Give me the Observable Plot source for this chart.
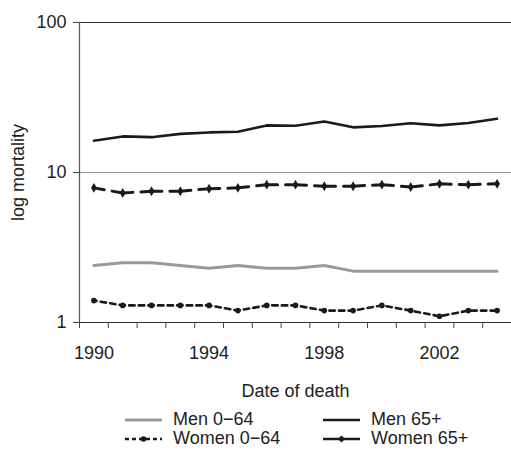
<!DOCTYPE html>
<html><head><meta charset="utf-8">
<script src="https://cdn.jsdelivr.net/npm/d3@7"></script>
<script src="https://cdn.jsdelivr.net/npm/@observablehq/plot@0.6"></script>
<style>
body{margin:0;background:#fff;font-family:"Liberation Sans",Arial,sans-serif;color:#222}
#legend{display:grid;grid-template-columns:198px 150px;padding-left:125px;margin-top:8px;font-size:18px;}
.item{display:flex;align-items:center;height:19px;white-space:nowrap}
.item svg{margin-right:11px;flex:none}
</style></head><body>
<div id="chart"></div><div id="legend"></div>
<script>
const years = [1990,1991,1992,1993,1994,1995,1996,1997,1998,1999,2000,2001,2002,2003,2004];
const men0_64   = [2.4,2.5,2.5,2.4,2.3,2.4,2.3,2.3,2.4,2.2,2.2,2.2,2.2,2.2,2.2];
const men65     = [16.3,17.4,17.2,18.1,18.5,18.7,20.6,20.5,21.9,20.0,20.4,21.3,20.6,21.4,22.8];
const women0_64 = [1.4,1.3,1.3,1.3,1.3,1.2,1.3,1.3,1.2,1.2,1.3,1.2,1.1,1.2,1.2];
const women65   = [7.9,7.3,7.5,7.5,7.8,7.9,8.3,8.3,8.1,8.1,8.3,8.0,8.4,8.3,8.4];
const seriesNames = ["Men 0\u221264","Men 65+","Women 0\u221264","Women 65+"];
const xLabelYears = [1990,1994,1998,2002];
const yTicks = [1,10,100];

const toRows = (vals) => years.map((year,i)=>({year, value: vals[i]}));
const dMen0 = toRows(men0_64), dMen65 = toRows(men65), dW0 = toRows(women0_64), dW65 = toRows(women65);
const boundaries = years.map(y=>y-0.5).concat([years[years.length-1]+0.5]);
const font = '"Liberation Sans", Arial, sans-serif';

const chart = Plot.plot({
  width: 511, height: 402,
  marginLeft: 79, marginRight: 0, marginTop: 22, marginBottom: 80,
  style: {fontFamily: font, fontSize: "18px", color: "#222", background: "#fff"},
  x: {domain: [years[0]-0.5, years[years.length-1]+0.5]},
  y: {type: "log", domain: [1, 100]},
  marks: [
    Plot.ruleY([10], {stroke: "#999", strokeWidth: 1.2}),
    Plot.ruleY([100], {stroke: "#333", strokeWidth: 1.2}),
    Plot.ruleY([1], {stroke: "#333", strokeWidth: 1.2}),
    Plot.ruleX([years[0]-0.5], {stroke: "#555", strokeWidth: 1.2}),
    Plot.axisY({ticks: yTicks, tickFormat: d => String(d), tickSize: 6, tickPadding: 7, stroke: "#444",
      label: "log mortality", labelAnchor: "center", labelArrow: "none", labelOffset: 68, fontSize: 18}),
    Plot.axisX({ticks: boundaries, tickFormat: () => "", tickSize: 6, stroke: "#444", label: null}),
    Plot.axisX({ticks: xLabelYears, tickFormat: d => String(d), tickSize: 0, tickPadding: 24,
      label: "Date of death", labelAnchor: "center", labelArrow: "none", labelOffset: 74, fontSize: 18}),
    Plot.line(dMen0, {x: "year", y: "value", stroke: "#9a9a9a", strokeWidth: 3}),
    Plot.line(dMen65, {x: "year", y: "value", stroke: "#1a1a1a", strokeWidth: 2.6}),
    Plot.line(dW0, {x: "year", y: "value", stroke: "#1a1a1a", strokeWidth: 2.6, strokeDasharray: "5.5,4.1", strokeDashoffset: 2.75}),
    Plot.dot(dW0, {x: "year", y: "value", fill: "#1a1a1a", r: 2.8, symbol: "circle"}),
    Plot.line(dW65, {x: "year", y: "value", stroke: "#1a1a1a", strokeWidth: 3, strokeDasharray: "21,8", strokeDashoffset: 10.5}),
    Plot.dot(dW65, {x: "year", y: "value", fill: "#1a1a1a", r: 3, symbol: "diamond"})
  ]
});
document.getElementById("chart").appendChild(chart);

// legend
const swatches = [
  `<svg width="37" height="10"><line x1="0" y1="5" x2="37" y2="5" stroke="#9a9a9a" stroke-width="3"/></svg>`,
  `<svg width="37" height="10"><line x1="0" y1="5" x2="37" y2="5" stroke="#1a1a1a" stroke-width="2.6"/></svg>`,
  `<svg width="37" height="10"><line x1="0" y1="5" x2="37" y2="5" stroke="#1a1a1a" stroke-width="2.4" stroke-dasharray="4,3"/><circle cx="18.5" cy="5" r="2.8" fill="#1a1a1a"/></svg>`,
  `<svg width="37" height="10"><line x1="0" y1="5" x2="37" y2="5" stroke="#1a1a1a" stroke-width="2.6"/><path d="M18.5,1.5 L22,5 L18.5,8.5 L15,5 Z" fill="#1a1a1a"/></svg>`
];
const legend = document.getElementById("legend");
seriesNames.forEach((name,i)=>{
  const div = document.createElement("div");
  div.className = "item";
  div.innerHTML = swatches[i] + `<span>${name}</span>`;
  legend.appendChild(div);
});
</script>
</body></html>
